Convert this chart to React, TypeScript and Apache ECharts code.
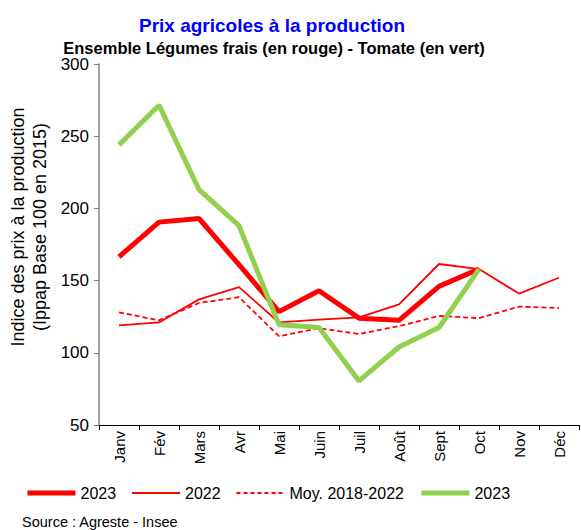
import React, { useEffect, useRef } from "react";
import * as echarts from "echarts";

const months = ["Janv", "Fév", "Mars", "Avr", "Mai", "Juin", "Juil", "Août", "Sept", "Oct", "Nov", "Déc"];
const legumes2023 = [166.5, 190.5, 193, 161, 128.5, 143, 124, 122.5, 146, 158, null, null];
const legumes2022 = [119, 121, 137, 145.5, 121, 123, 124.5, 133.5, 161.5, 158, 141, 152];
const legumesMoy = [128, 122.5, 134.5, 138.5, 111.5, 117, 113, 118.5, 125.5, 124, 132, 131];
const tomate2023 = [244, 271.5, 213, 188, 119.5, 117.5, 80.5, 104, 117.5, 158, null, null];
const yTicks = { min: 50, max: 300, interval: 50 };

export default function App() {
  const ref = useRef<HTMLDivElement>(null);
  useEffect(() => {
    document.body.style.margin = "0";
    const chart = echarts.init(ref.current!, null, { renderer: "svg" });
    const font = "Arial, 'Liberation Sans', sans-serif";
    chart.setOption({
      animation: false,
      textStyle: { fontFamily: font },
      title: [
        {
          text: "Prix agricoles à la production",
          left: 267,
          top: 11,
          textAlign: "center",
          textStyle: { color: "#0000FF", fontSize: 19, fontWeight: "bold", fontFamily: font },
        },
        {
          text: "Ensemble Légumes frais (en rouge) - Tomate (en vert)",
          left: 269,
          top: 34,
          textAlign: "center",
          textStyle: { color: "#000", fontSize: 16.5, fontWeight: "bold", fontFamily: font },
        },
        {
          text: "Source : Agreste - Insee",
          left: 17,
          top: 509,
          textStyle: { color: "#000", fontSize: 14.5, fontWeight: "normal", fontFamily: font },
        },
      ],
      graphic: [
        {
          type: "text",
          x: 29,
          y: 227,
          rotation: Math.PI / 2,
          style: {
            text: "Indice des prix à la production\n(Ippap Base 100 en 2015)",
            textAlign: "center",
            textVerticalAlign: "middle",
            fontSize: 18,
            lineHeight: 22,
            fontFamily: font,
            fill: "#000",
          },
        },
      ],
      legend: {
        left: 20,
        top: 480,
        itemWidth: 48,
        itemHeight: 2,
        itemGap: 15,
        itemStyle: { opacity: 0 },
        textStyle: { fontSize: 16, color: "#000", fontFamily: font },
        formatter: (n: string) => n.trim(),
        data: [
          { name: "2023", lineStyle: { width: 5 } },
          { name: "2022", lineStyle: { width: 1.8 } },
          { name: "Moy. 2018-2022", lineStyle: { width: 1.8, type: [4, 3] } },
          { name: "2023 ", lineStyle: { width: 5 } },
        ],
      },
      grid: { left: 99, right: 2, top: 64, bottom: 105, containLabel: false },
      xAxis: {
        type: "category",
        data: months,
        boundaryGap: true,
        axisLine: { lineStyle: { color: "#000", width: 1 } },
        axisTick: { show: true, length: 5, lineStyle: { color: "#000" } },
        axisLabel: { rotate: 90, fontSize: 15, color: "#000", margin: 6, fontFamily: font },
      },
      yAxis: {
        type: "value",
        min: yTicks.min,
        max: yTicks.max,
        interval: yTicks.interval,
        splitLine: { show: false },
        axisLine: { show: true, lineStyle: { color: "#808080", width: 1.5 } },
        axisTick: { show: true, length: 5, lineStyle: { color: "#808080" } },
        axisLabel: { fontSize: 17, color: "#000", margin: 10, fontFamily: font },
      },
      series: [
        {
          name: "2023",
          type: "line",
          data: legumes2023,
          symbol: "none",
          lineStyle: { color: "#FF0000", width: 5 },
          itemStyle: { color: "#FF0000" },
          z: 3,
        },
        {
          name: "2022",
          type: "line",
          data: legumes2022,
          symbol: "none",
          lineStyle: { color: "#FF0000", width: 1.8 },
          itemStyle: { color: "#FF0000" },
          z: 2,
        },
        {
          name: "Moy. 2018-2022",
          type: "line",
          data: legumesMoy,
          symbol: "none",
          lineStyle: { color: "#FF0000", width: 1.8, type: [5, 3] },
          itemStyle: { color: "#FF0000" },
          z: 2,
        },
        {
          name: "2023 ",
          type: "line",
          data: tomate2023,
          symbol: "none",
          lineStyle: { color: "#92D050", width: 5 },
          itemStyle: { color: "#92D050" },
          z: 4,
        },
      ],
    });
    return () => chart.dispose();
  }, []);
  return <div ref={ref} style={{ width: 581, height: 530 }} />;
}
